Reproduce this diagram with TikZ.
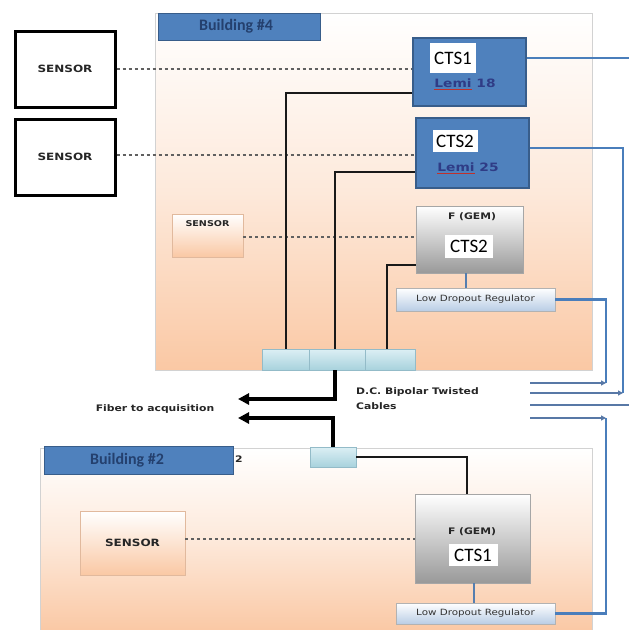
\documentclass[tikz,border=0pt]{standalone}
\usepackage{fontspec}
\setmainfont{Carlito}
\newfontfamily\dv[FakeStretch=1.2]{DejaVu Sans}
\usetikzlibrary{arrows.meta,calc}
\definecolor{bfill}{HTML}{4F81BD}
\definecolor{bedge}{HTML}{385D8A}
\definecolor{navy}{HTML}{24406E}
\definecolor{peach}{HTML}{FAC8A4}
\definecolor{lemic}{HTML}{2F3C86}
\definecolor{jtop}{HTML}{DCEFF4}
\definecolor{jbot}{HTML}{A8D2DD}
\definecolor{jedge}{HTML}{93BBC8}
\definecolor{ldob}{HTML}{B9CDE5}
\definecolor{wire}{HTML}{4A7EBB}
\definecolor{wirethin}{HTML}{5878A6}
\definecolor{squig}{HTML}{C0302A}
\newcommand\redul[1]{\leavevmode\setbox0\hbox{#1}\rlap{\color{squig}\rule[-2.6pt]{\wd0}{0.8pt}}\box0\relax}
\begin{document}
\begin{tikzpicture}[x=1pt,y=-1pt,
  area/.style={draw=gray!35, line width=0.8pt, top color=white, bottom color=peach, middle color=peach!40},
  blabel/.style={draw=bedge, fill=bfill, line width=1pt, inner sep=0pt},
  blabeltext/.style={text=navy, font=\bfseries\fontsize{16}{18}\selectfont},
  sensorbig/.style={draw=black, fill=white, line width=3pt, inner sep=0pt},
  sensorsoft/.style={draw=peach!80!gray, line width=0.6pt, top color=white, bottom color=peach, inner sep=0pt},
  sensortext/.style={font=\dv\bfseries\fontsize{10}{12}\selectfont, text=black!85},
  ctsbox/.style={draw=bedge, fill=bfill, line width=1.6pt, inner sep=0pt},
  whitetag/.style={fill=white, inner sep=1.5pt, font=\fontsize{19}{20}\selectfont, text=black},
  lemi/.style={font=\dv\bfseries\fontsize{11.5}{13}\selectfont, text=lemic},
  gembox/.style={draw=gray!70, line width=0.8pt, top color=white, bottom color=gray!80, inner sep=0pt},
  gemtext/.style={font=\dv\bfseries\fontsize{9}{11}\selectfont, text=black!85},
  ldobox/.style={draw=gray!60, line width=0.6pt, top color=white, bottom color=ldob, inner sep=0pt,
     font=\dv\fontsize{8.6}{10}\selectfont, text=black!80},
  jbox/.style={draw=jedge, line width=0.7pt, top color=jtop, bottom color=jbot, inner sep=0pt},
  sig/.style={draw=gray!75!black, line width=1.2pt, dash pattern=on 3pt off 3pt},
  blk/.style={draw=black!90, line width=2.2pt},
  fiber/.style={draw=black, line width=4pt, -{Triangle[length=11pt,width=11pt]}},
  bwire/.style={draw=wire, line width=2.8pt},
  cable/.style={draw=wirethin, line width=1.9pt, -{Triangle[length=5pt,width=5pt]}},
  plaintext/.style={font=\dv\bfseries\fontsize{9}{11}\selectfont, text=black!85, inner sep=0pt}
]
\useasboundingbox (0,0) rectangle (629,630);

% buildings
\node[area, minimum width=437pt, minimum height=357pt, inner sep=0pt] (b4) at (373.5,191.5) {};
\node[area, minimum width=552pt, minimum height=184pt, inner sep=0pt] (b2) at (316,540) {};
\node[blabel, minimum width=162pt, minimum height=27pt] (b4l) at (239,26.5) {};
\node[blabeltext] (b4t) at (236,26.5) {Building \#4};
\node[blabel, minimum width=189pt, minimum height=28pt] (b2l) at (138.5,460) {};
\node[blabeltext] (b2t) at (127,460) {Building \#2};
\node[plaintext] (two) at (239,459) {2};

% sensors
\node[sensorbig, minimum width=100pt, minimum height=76pt, sensortext] (s1) at (65,69) {SENSOR};
\node[sensorbig, minimum width=100pt, minimum height=76pt, sensortext] (s2) at (65,157) {SENSOR};
\node[sensorsoft, minimum width=71pt, minimum height=43pt] (s3) at (207.5,235.5) {};
\node[sensortext, font=\dv\bfseries\fontsize{8}{9}\selectfont] (s3t) at (207.5,224) {SENSOR};
\node[sensorsoft, minimum width=105pt, minimum height=64pt, sensortext] (s4) at (132.5,543) {SENSOR};

% CTS boxes
\node[ctsbox, minimum width=113pt, minimum height=68pt] (cts1) at (469.5,72) {};
\node[whitetag, minimum width=46pt, minimum height=30pt] (cts1t) at (453,58) {CTS1};
\node[lemi] (cts1l) at (465,84) {\redul{Lemi} 18};
\node[ctsbox, minimum width=113pt, minimum height=70pt] (cts2) at (472.5,153) {};
\node[whitetag, minimum width=45pt, minimum height=22pt] (cts2t) at (455,141) {CTS2};
\node[lemi] (cts2l) at (468,168) {\redul{Lemi} 25};

% GEM boxes
\node[gembox, minimum width=107pt, minimum height=67pt] (fg2) at (469.5,239.5) {};
\node[gemtext] (fg2a) at (472,217) {F (GEM)};
\node[whitetag, minimum width=48pt, minimum height=23pt] (fg2t) at (469,246) {CTS2};
\node[gembox, minimum width=115pt, minimum height=89pt] (fg1) at (472.5,538.5) {};
\node[gemtext] (fg1a) at (472,532) {F (GEM)};
\node[whitetag, minimum width=49pt, minimum height=22pt] (fg1t) at (473,555) {CTS1};

% LDO
\node[ldobox, minimum width=159pt, minimum height=23pt] (ldo1) at (475.5,299.5) {Low Dropout Regulator};
\node[ldobox, minimum width=159pt, minimum height=21pt] (ldo2) at (475.5,613.5) {Low Dropout Regulator};
\draw[draw=wire!80!gray, line width=2pt] (fg2.south -| 466,0) -- (ldo1.north -| 466,0);
\draw[draw=wire!80!gray, line width=2pt] (fg1.south -| 474,0) -- (ldo2.north -| 474,0);

% junction boxes
\node[jbox, minimum width=47pt, minimum height=21pt] (j1) at (285.5,359.5) {};
\node[jbox, minimum width=56pt, minimum height=21pt] (j2) at (337,359.5) {};
\node[jbox, minimum width=50pt, minimum height=21pt] (j3) at (390,359.5) {};
\node[jbox, minimum width=46pt, minimum height=20pt] (j4) at (333,457) {};

% dashed sensor links
\draw[sig] (s1.east) -- (s1.east -| cts1.west);
\draw[sig] (s2.east |- 0,155) -- (cts2.west |- 0,155);
\draw[sig] (s3.east |- 0,237) -- (fg2.west |- 0,237);
\draw[sig] (s4.east |- 0,539) -- (fg1.west |- 0,539);

% black wires to junctions
\draw[blk] (cts1.west |- 0,93) -| (j1.north -| 286,0);
\draw[blk] (cts2.west |- 0,172) -| (j2.north -| 335,0);
\draw[blk] (fg2.west |- 0,265) -| (j3.north -| 387,0);
\draw[blk] (j4.east) -| (fg1.north -| 467,0);

% fiber arrows
\coordinate (fa1) at (238,399);
\coordinate (fa2) at (238,418);
\draw[fiber] (j2.south -| 335,0) |- (fa1);
\draw[fiber] (j4.north) |- (fa2);
\node[plaintext] (fib) at (155,409) {Fiber to acquisition};
\node[plaintext, align=left, anchor=west, font=\dv\bfseries\fontsize{9}{15}\selectfont] (dc) at (356,399) {D.C. Bipolar Twisted\\Cables};

% blue power/signal wires
\coordinate (c1o) at (629,58);
\coordinate (k1) at (606,383);
\coordinate (k2) at (623,393);
\coordinate (k4) at (606,418);
\coordinate (e1) at (530,383);
\coordinate (e2) at (530,393);
\coordinate (e3) at (530,405);
\coordinate (e3o) at (629,405);
\coordinate (e4) at (530,418);
\draw[bwire] (cts1.east |- c1o) -- (c1o);
\draw[bwire] (cts2.east |- 0,148) -| (k2);
\draw[bwire] (ldo1.east) -| (k1);
\draw[bwire] (ldo2.east) -| (k4);
\draw[cable] (e1) -- (k1);
\draw[cable] (e2) -- (k2);
\draw[cable, -] (e3) -- (e3o);
\draw[cable] (e4) -- (k4);
\end{tikzpicture}
\end{document}
